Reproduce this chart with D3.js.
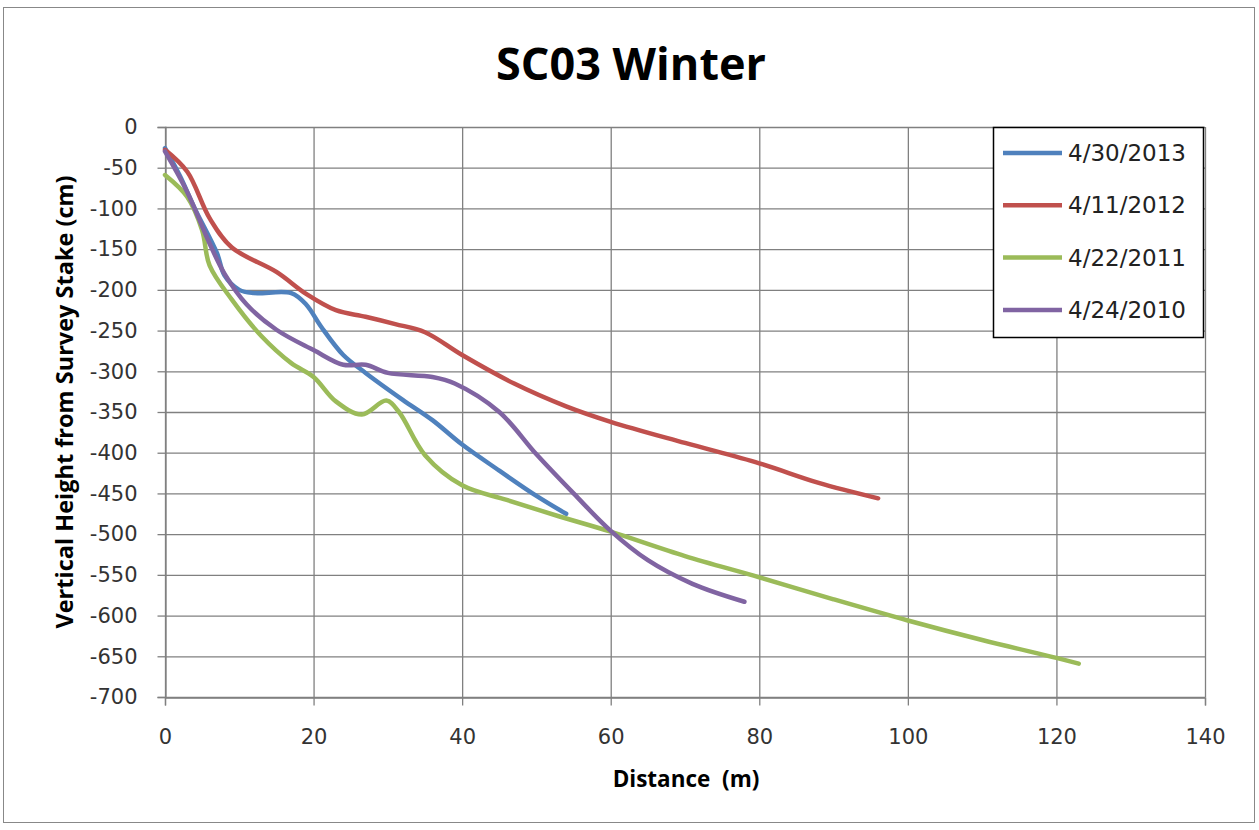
<!DOCTYPE html>
<html><head><meta charset="utf-8">
<script src="https://cdn.jsdelivr.net/npm/d3@7"></script>
<style>body{margin:0;background:#fff}svg{display:block}</style>
</head><body>
<svg id="c" width="1259" height="830"></svg>
<script>
const title = "SC03 Winter";
const xTitle = "Distance  (m)";
const yTitle = "Vertical Height from Survey Stake (cm)";
const xTicks = [0,20,40,60,80,100,120,140];
const yTicks = [0,-50,-100,-150,-200,-250,-300,-350,-400,-450,-500,-550,-600,-650,-700];
const seriesNames = ["4/30/2013","4/11/2012","4/22/2011","4/24/2010"];
const seriesColors = ["#4F81BD","#C0504D","#9BBB59","#8064A2"];
const s2013 = [[0,-26],[2,-60],[4,-100],[7,-155],[8,-182],[10,-200],[12,-204],[17,-204],[19,-218],[21,-245],[24,-280],[27,-302],[32,-335],[36,-360],[40,-390],[45,-422],[50,-453],[54,-475]];
const s2012 = [[0,-28],[3,-55],[6,-112],[9,-148],[15,-178],[19,-205],[23,-225],[27,-233],[31,-242],[35,-252],[40,-280],[47,-315],[54,-343],[60,-362],[70,-388],[80,-413],[88,-437],[96,-456]];
const s2011 = [[0,-59],[3,-86],[5,-127],[6,-170],[9,-212],[13,-257],[17,-290],[20,-307],[23,-337],[26.5,-353],[29.8,-336],[31.5,-350],[35,-403],[40,-440],[46,-458],[53,-478],[60,-497],[70,-527],[80,-553],[90,-580],[100,-606],[110,-630],[120,-652],[123,-659]];
const s2010 = [[0,-30],[3,-80],[6,-143],[8,-180],[11,-218],[15,-249],[20,-274],[24,-292],[27,-292],[30,-302],[36,-307],[39,-315],[45,-350],[50,-402],[55,-450],[60,-496],[65,-532],[71,-561],[78,-583]];
const series = [s2013, s2012, s2011, s2010];

const svg = d3.select("#c");
const m = {l:165, t:127, r:1205, b:697};
const x = d3.scaleLinear().domain([0,140]).range([m.l, m.r]);
const y = d3.scaleLinear().domain([-700,0]).range([m.b, m.t]);
const font = "'Open Sans', 'DejaVu Sans', sans-serif";
const tickFont = "'DejaVu Sans', Verdana, sans-serif";
const fmt = d => String(d);

// outer border
svg.append("rect").attr("x",3.5).attr("y",7.5).attr("width",1251).attr("height",815)
  .attr("fill","#fff").attr("stroke","#888").attr("stroke-width",1);

// gridlines
svg.append("g").selectAll("line").data(yTicks).join("line")
  .attr("x1",m.l).attr("x2",m.r).attr("y1",d=>y(d)+0.5).attr("y2",d=>y(d)+0.5)
  .attr("stroke","#808080").attr("stroke-width",1.3);
svg.append("g").selectAll("line").data(xTicks).join("line")
  .attr("y1",m.t).attr("y2",m.b).attr("x1",d=>x(d)+0.5).attr("x2",d=>x(d)+0.5)
  .attr("stroke","#808080").attr("stroke-width",1.3);

// axes
const ya = d3.axisLeft(y).tickValues(yTicks).tickSize(8).tickPadding(20).tickFormat(fmt);
const xa = d3.axisBottom(x).tickValues(xTicks).tickSize(8).tickPadding(24).tickFormat(fmt);
const gy = svg.append("g").attr("transform",`translate(${m.l+0.5},0)`).call(ya);
const gx = svg.append("g").attr("transform",`translate(0,${m.b+0.5})`).call(xa);
[gy,gx].forEach(g=>{
  g.select(".domain").attr("stroke","#808080").attr("stroke-width",1.3);
  g.selectAll(".tick line").attr("stroke","#808080").attr("stroke-width",1.3);
  g.selectAll("text").attr("font-family",tickFont).attr("font-size",21).attr("fill","#333");
});

// lines
const line = d3.line().x(d=>x(d[0])).y(d=>y(d[1])).curve(d3.curveCatmullRom.alpha(0.5));
svg.append("g").selectAll("path").data(series).join("path")
  .attr("d",line).attr("fill","none")
  .attr("stroke",(d,i)=>seriesColors[i]).attr("stroke-width",4.5)
  .attr("stroke-linejoin","round").attr("stroke-linecap","round");

// title
svg.append("text").attr("x",631).attr("y",80).attr("text-anchor","middle")
  .attr("font-family",font).attr("font-weight","bold").attr("font-size",45).attr("fill","#000").text(title);
// axis titles
svg.append("text").attr("x",686).attr("y",787).attr("text-anchor","middle").attr("xml:space","preserve")
  .style("white-space","pre")
  .attr("font-family",font).attr("font-weight","bold").attr("font-size",22.5).attr("fill","#000").text(xTitle);
svg.append("text").attr("transform","translate(73,402) rotate(-90)").attr("text-anchor","middle")
  .attr("font-family",font).attr("font-weight","bold").attr("font-size",23.5).attr("fill","#000").text(yTitle);

// legend
const lg = svg.append("g");
lg.append("rect").attr("x",993.5).attr("y",127.5).attr("width",210).attr("height",210)
  .attr("fill","#fff").attr("stroke","#000").attr("stroke-width",1.5);
const rows = lg.selectAll("g.r").data(seriesNames).join("g").attr("class","r")
  .attr("transform",(d,i)=>`translate(0,${153+i*52.3})`);
rows.append("line").attr("x1",1003).attr("x2",1062).attr("y1",0).attr("y2",0)
  .attr("stroke",(d,i)=>seriesColors[i]).attr("stroke-width",4.5);
rows.append("text").attr("x",1068).attr("y",8).attr("font-family",tickFont).attr("font-size",23)
  .attr("fill","#222").text(d=>d);
</script>
</body></html>
